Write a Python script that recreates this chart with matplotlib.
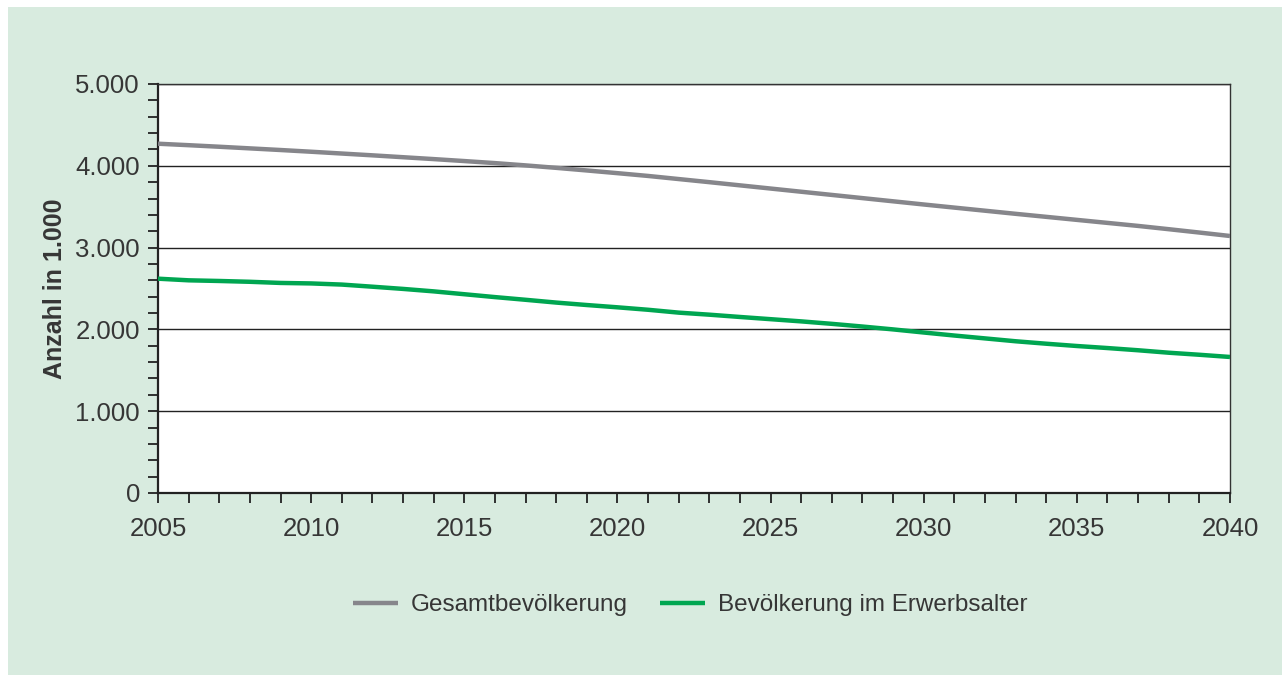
import matplotlib
matplotlib.use("Agg")
import matplotlib.pyplot as plt
from matplotlib.patches import Rectangle
from matplotlib.ticker import MultipleLocator, FuncFormatter

# Werte in 1.000
jahre = list(range(2005, 2041))
gesamt = [4270, 4252, 4233, 4213, 4193, 4172, 4150, 4128, 4105, 4082,
          4058, 4033, 4005, 3975, 3943, 3910, 3876, 3838, 3800, 3761,
          3722, 3683, 3644, 3605, 3566, 3527, 3489, 3451, 3413, 3376,
          3339, 3302, 3265, 3225, 3184, 3142]
erwerb = [2620, 2600, 2592, 2582, 2568, 2562, 2548, 2522, 2495, 2465,
          2430, 2395, 2362, 2328, 2298, 2270, 2240, 2205, 2180, 2152,
          2125, 2098, 2068, 2035, 2000, 1962, 1925, 1890, 1855, 1825,
          1797, 1772, 1745, 1715, 1690, 1663]
labels = ["Gesamtbevölkerung", "Bevölkerung im Erwerbsalter"]

BG = "#d8ebdf"
TXT = "#363636"
plt.rcParams['font.family'] = ['Liberation Sans', 'DejaVu Sans']

fig = plt.figure(figsize=(12.82, 6.75), dpi=100, facecolor="white")
# green panel, white strip left and top
fig.add_artist(Rectangle((8 / 1282, 0), 1 - 8 / 1282, 1 - 7 / 675,
                         transform=fig.transFigure, facecolor=BG,
                         edgecolor="none", zorder=-10))

ax = fig.add_axes([158 / 1282, 1 - 493 / 675, (1230 - 158) / 1282, (493 - 84) / 675])
ax.set_zorder(1)
ax.set_facecolor("white")

l1, = ax.plot(jahre, gesamt, color="#86868b", lw=3.2, solid_capstyle="butt", zorder=3)
l2, = ax.plot(jahre, erwerb, color="#00a651", lw=3.2, solid_capstyle="butt", zorder=3)

ax.set_xlim(2005, 2040)
ax.set_ylim(0, 5000)
ax.xaxis.set_major_locator(MultipleLocator(5))
ax.xaxis.set_minor_locator(MultipleLocator(1))
ax.yaxis.set_major_locator(MultipleLocator(1000))
ax.yaxis.set_minor_locator(MultipleLocator(200))
ax.yaxis.set_major_formatter(FuncFormatter(lambda v, p: f"{int(v):,}".replace(",", ".")))

ax.grid(axis="y", which="major", color="#222222", lw=1.0, zorder=1)
for s in ["left", "bottom"]:
    ax.spines[s].set_linewidth(1.6)
    ax.spines[s].set_color("#222222")
for s in ["top", "right"]:
    ax.spines[s].set_linewidth(1.0)
    ax.spines[s].set_color("#333333")

ax.tick_params(axis="both", which="both", direction="out", color="#222222",
               width=1.3, length=7, labelsize=18.5, labelcolor=TXT)
ax.tick_params(axis="x", which="major", pad=10)
ax.tick_params(axis="y", which="major", pad=6)

ax.set_ylabel("Anzahl in 1.000", fontsize=18, fontweight="bold", color=TXT, labelpad=6)

fig.legend([l1, l2], labels, loc="center", bbox_to_anchor=(690 / 1282, 1 - 605 / 675),
           ncol=2, frameon=False, fontsize=17.5, handlelength=1.85, handletextpad=0.55,
           columnspacing=1.3, labelcolor=TXT)

fig.savefig("out.png", dpi=100, facecolor="white")
